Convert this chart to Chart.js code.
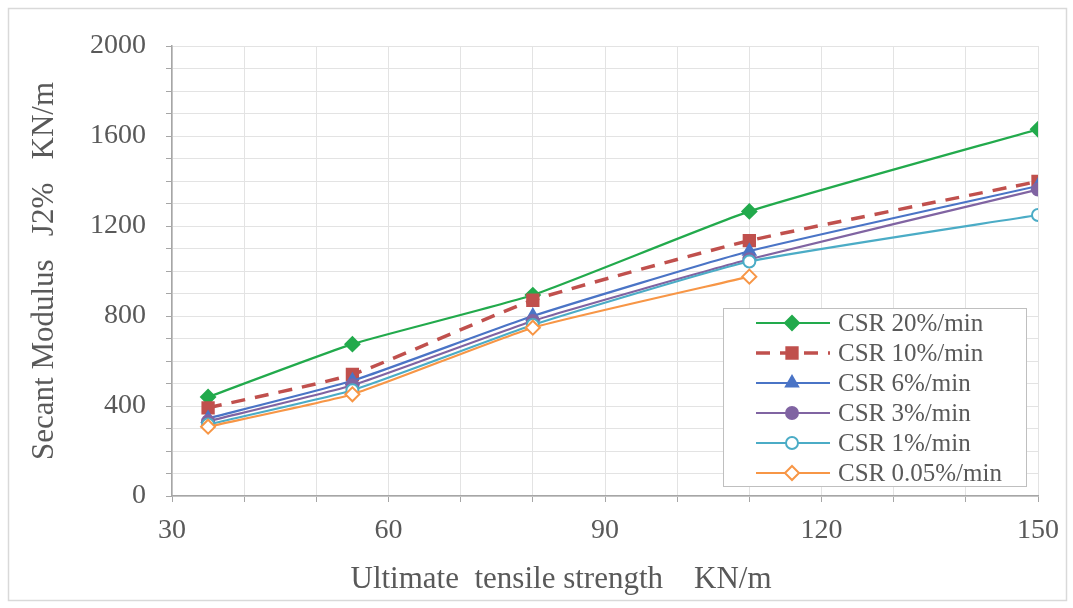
<!DOCTYPE html>
<html lang="en">
<head>
    <meta charset="UTF-8">
    <title>Secant Modulus vs Ultimate tensile strength</title>
    <script src="https://cdn.jsdelivr.net/npm/chart.js"></script>
    <style>
        body { margin: 0; background: #fff; }
    </style>
</head>
<body>
    <canvas id="modulusChart" width="1073" height="608"></canvas>

    <script>
        // datos
        const strength = [35, 55, 80, 110, 150];
        const csr20 = [440, 675, 893, 1265, 1630];
        const csr10 = [392, 540, 870, 1135, 1398];
        const csr6 = [345, 512, 800, 1088, 1378];
        const csr3 = [332, 492, 778, 1052, 1362];
        const csr1 = [318, 470, 760, 1042, 1249];
        const csr005 = [308, 452, 748, 975];
        const seriesLabels = ['CSR 20%/min', 'CSR 10%/min', 'CSR 6%/min', 'CSR 3%/min', 'CSR 1%/min', 'CSR 0.05%/min'];
        const xTickLabels = [30, 60, 90, 120, 150];
        const yTickLabels = [0, 400, 800, 1200, 1600, 2000];

        const serif = "'Liberation Serif', 'Times New Roman', serif";
        const textColor = '#595959';

        function pts(values) {
            return values.map((v, i) => ({ x: strength[i], y: v }));
        }

        const styles = [
            { color: '#22aa4c', pointStyle: 'rectRot', radius: 7, fill: '#22aa4c', dash: [] },
            { color: '#c0504d', pointStyle: 'rect', radius: 8, fill: '#c0504d', dash: [14, 10] },
            { color: '#4a74c6', pointStyle: 'triangle', radius: 7, fill: '#4a74c6', dash: [] },
            { color: '#8064a2', pointStyle: 'circle', radius: 6, fill: '#8064a2', dash: [] },
            { color: '#4bacc6', pointStyle: 'circle', radius: 6, fill: '#ffffff', dash: [] },
            { color: '#f79646', pointStyle: 'rectRot', radius: 7, fill: '#ffffff', dash: [] }
        ];
        const allValues = [csr20, csr10, csr6, csr3, csr1, csr005];

        const datasets = allValues.map((vals, i) => ({
            label: seriesLabels[i],
            data: pts(vals),
            borderColor: styles[i].color,
            backgroundColor: styles[i].fill,
            borderWidth: i === 1 ? 3.5 : 2.2,
            borderDash: styles[i].dash,
            pointStyle: styles[i].pointStyle,
            pointRadius: styles[i].radius,
            pointBorderColor: styles[i].color,
            pointBackgroundColor: styles[i].fill,
            pointBorderWidth: 2,
            tension: 0.15,
            order: 5 - i
        }));

        // marco exterior
        const framePlugin = {
            id: 'frame',
            beforeDraw(chart) {
                const c = chart.ctx;
                c.save();
                c.fillStyle = '#ffffff';
                c.fillRect(0, 0, chart.width, chart.height);
                c.strokeStyle = '#d9d9d9';
                c.lineWidth = 1.5;
                c.strokeRect(8.5, 8.5, 1058, 592);
                c.restore();
            }
        };

        // titulo del eje x (desplazado a la izquierda como en el original)
        const xTitlePlugin = {
            id: 'xTitle',
            afterDraw(chart) {
                const c = chart.ctx;
                c.save();
                c.font = '31px ' + serif;
                c.fillStyle = textColor;
                c.textAlign = 'center';
                c.textBaseline = 'middle';
                c.fillText('Ultimate  tensile strength    KN/m', 561, 580);
                c.restore();
            }
        };

        // leyenda dentro del area del grafico
        const boxLegend = {
            id: 'boxLegend',
            afterDraw(chart) {
                const c = chart.ctx;
                c.save();
                c.fillStyle = '#ffffff';
                c.fillRect(723, 308, 303, 178);
                c.strokeStyle = '#bfbfbf';
                c.lineWidth = 1;
                c.strokeRect(723.5, 308.5, 303, 178);
                c.font = '25px ' + serif;
                c.textBaseline = 'middle';
                datasets.forEach((ds, i) => {
                    const y = 323 + i * 30;
                    c.strokeStyle = ds.borderColor;
                    c.lineWidth = ds.borderWidth;
                    c.setLineDash(ds.borderDash);
                    c.beginPath();
                    c.moveTo(756, y);
                    c.lineTo(830, y);
                    c.stroke();
                    c.setLineDash([]);
                    c.fillStyle = ds.pointBackgroundColor;
                    c.strokeStyle = ds.pointBorderColor;
                    c.lineWidth = 2;
                    Chart.helpers.drawPoint(c, {
                        pointStyle: ds.pointStyle,
                        radius: ds.pointRadius,
                        rotation: 0,
                        borderWidth: 2
                    }, 792, y);
                    c.fillStyle = textColor;
                    c.fillText(ds.label, 838, y + 1);
                });
                c.restore();
            }
        };

        const gridColor = '#e3e3e3';
        const axisColor = '#a6a6a6';

        new Chart(document.getElementById('modulusChart'), {
            type: 'line',
            data: { datasets: datasets },
            options: {
                responsive: false,
                animation: false,
                layout: { padding: { top: 46, right: 35, left: 0, bottom: 0 } },
                plugins: {
                    legend: { display: false },
                    tooltip: { enabled: false }
                },
                scales: {
                    x: {
                        type: 'linear',
                        min: 30,
                        max: 150,
                        afterFit: (scale) => { scale.height = 112; },
                        ticks: {
                            stepSize: 10,
                            autoSkip: false,
                            maxRotation: 0,
                            padding: 12,
                            color: textColor,
                            font: { family: serif, size: 28 },
                            callback: (v) => xTickLabels.includes(v) ? String(v) : ''
                        },
                        grid: { color: gridColor, tickColor: axisColor, tickLength: 6 },
                        border: { color: axisColor, width: 1.5 }
                    },
                    y: {
                        min: 0,
                        max: 2000,
                        afterFit: (scale) => { scale.width = 172; },
                        ticks: {
                            stepSize: 100,
                            autoSkip: false,
                            padding: 20,
                            color: textColor,
                            font: { family: serif, size: 28 },
                            callback: (v) => yTickLabels.includes(v) ? String(v) : ''
                        },
                        grid: { color: gridColor, tickColor: axisColor, tickLength: 6 },
                        border: { color: axisColor, width: 1.5 },
                        title: {
                            display: true,
                            text: 'Secant Modulus   J2%   KN/m',
                            color: textColor,
                            font: { family: serif, size: 31 },
                            padding: { top: 26, bottom: 0 }
                        }
                    }
                }
            },
            plugins: [framePlugin, xTitlePlugin, boxLegend]
        });
    </script>
</body>
</html>
